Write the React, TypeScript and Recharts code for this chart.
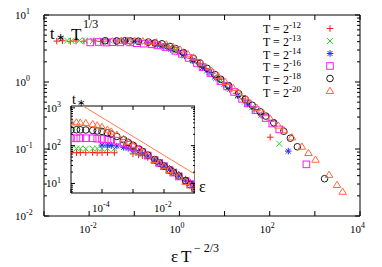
import React from 'react';
import { ScatterChart, Scatter, XAxis, YAxis, ReferenceLine } from 'recharts';

const FONT = '"Liberation Serif", "Times New Roman", serif';

// T = 2^-k for each series
const T_EXP = [12, 13, 14, 16, 18, 20];
const COLORS = ['#ff1a1a', '#22dd22', '#2a2aff', '#ff1aff', '#1a1a1a', '#ff6a3a'];
const KINDS = ['plus', 'cross', 'star', 'square', 'circle', 'triangle'];

// raw epsilon values and the scaled t* T^(1/3)
const EPS_12 = [7.5e-6, 1e-5, 1.5e-5, 2e-5, 3e-5, 5e-5, 7e-5, 1e-4, 1.5e-4, 2.5e-4, 1e-3, 1.5e-3, 2e-3, 3e-3, 5e-3, 7e-3, 1e-2, 1.5e-2, 2e-2, 3e-2, 5e-2, 7e-2, 0.1, 0.4];
const Y_12 = [4.08, 4.12, 4.05, 4.1, 4.07, 4.11, 4.04, 4.08, 4.1, 4.06, 3.8, 3.57, 3.41, 3.06, 2.58, 2.26, 1.92, 1.58, 1.36, 1.09, 0.82, 0.68, 0.56, 0.15];

const EPS_13 = [8e-6, 1e-5, 1.5e-5, 2e-5, 3e-5, 5e-5, 7e-5, 1e-4, 1.5e-4, 2.5e-4, 1e-3, 1.5e-3, 2e-3, 3e-3, 5e-3, 7e-3, 1e-2, 1.5e-2, 2e-2, 3e-2, 5e-2, 7e-2, 0.1, 0.4];
const Y_13 = [4.15, 4.12, 4.17, 4.14, 4.1, 4.15, 4.17, 4.12, 4.15, 4.1, 3.5, 3.18, 2.94, 2.55, 2.07, 1.76, 1.48, 1.19, 1.02, 0.82, 0.62, 0.51, 0.42, 0.12];

const EPS_14 = [1e-4, 1.5e-4, 2e-4, 3e-4, 5e-4, 7e-4, 1e-3, 1.5e-3, 2e-3, 3e-3, 5e-3, 7e-3, 1e-2, 1.5e-2, 2e-2, 3e-2, 5e-2, 7e-2, 0.1, 0.4];
const Y_14 = [4.08, 4.07, 3.98, 3.85, 3.55, 3.35, 3.06, 2.75, 2.45, 2.09, 1.64, 1.38, 1.14, 0.92, 0.78, 0.63, 0.47, 0.39, 0.32, 0.093];

const EPS_16 = [6.5e-6, 1e-5, 1.5e-5, 2e-5, 3e-5, 5e-5, 7e-5, 1e-4, 1.5e-4, 2e-4, 3e-4, 5e-4, 7e-4, 1e-3, 1.5e-3, 2e-3, 3e-3, 5e-3, 7e-3, 1e-2, 1.5e-2, 2e-2, 3e-2, 5e-2, 7e-2, 0.1, 0.4];
const Y_16 = [3.9, 3.95, 3.88, 3.93, 3.9, 3.9, 3.8, 3.73, 3.66, 3.52, 3.33, 2.92, 2.63, 2.28, 1.92, 1.67, 1.36, 1.03, 0.86, 0.71, 0.56, 0.48, 0.38, 0.29, 0.24, 0.196, 0.059];

const EPS_18 = [5.5e-6, 1e-5, 1.5e-5, 2e-5, 3e-5, 5e-5, 7e-5, 1e-4, 1.5e-4, 2e-4, 3e-4, 5e-4, 7e-4, 1e-3, 1.5e-3, 2e-3, 3e-3, 5e-3, 7e-3, 1e-2, 1.5e-2, 2e-2, 3e-2, 5e-2, 7e-2, 0.1, 0.4];
const Y_18 = [4.12, 4.1, 4.12, 4.1, 4.06, 3.95, 3.83, 3.72, 3.4, 3.15, 2.75, 2.24, 1.9, 1.6, 1.29, 1.1, 0.88, 0.67, 0.55, 0.45, 0.36, 0.31, 0.246, 0.184, 0.145, 0.108, 0.036];

const EPS_20 = [5e-6, 7e-6, 1e-5, 1.5e-5, 2e-5, 3e-5, 5e-5, 7e-5, 1e-4, 1.5e-4, 2e-4, 3e-4, 5e-4, 7e-4, 1e-3, 1.5e-3, 2e-3, 3e-3, 5e-3, 7e-3, 1e-2, 1.5e-2, 2e-2, 3e-2, 5e-2, 7e-2, 0.1, 0.2, 0.3, 0.4];
const Y_20 = [4.12, 4.12, 4.09, 4.05, 3.98, 3.89, 3.63, 3.35, 3.05, 2.59, 2.31, 1.9, 1.46, 1.22, 1.0, 0.81, 0.685, 0.547, 0.411, 0.341, 0.28, 0.223, 0.19, 0.149, 0.108, 0.087, 0.069, 0.041, 0.029, 0.023];

const EPS = [EPS_12, EPS_13, EPS_14, EPS_16, EPS_18, EPS_20];
const YS = [Y_12, Y_13, Y_14, Y_16, Y_18, Y_20];

// reference power law in the inset
const LINE_EPS = [2.5e-5, 0.1];
const LINE_T = [1110, 17.6];

// axes
const MAIN_X_DOMAIN = [1e-3, 1e4];
const MAIN_Y_DOMAIN = [1e-2, 10];
const MAIN_X_TICKS = [1e-3, 1e-2, 1e-1, 1, 10, 100, 1e3, 1e4];
const MAIN_X_LABELS = [1e-2, 1, 100, 1e4];
const MAIN_Y_DECADES = [1e-2, 1e-1, 1, 10];
const INSET_X_DOMAIN = [1e-5, 0.1];
const INSET_Y_DOMAIN = [5.6, 1120];
const INSET_X_TICKS = [1e-5, 1e-4, 1e-3, 1e-2, 1e-1];
const INSET_X_LABELS = [1e-4, 1e-2];
const INSET_Y_DECADES = [1, 10, 100, 1000];

const near = (a: number, b: number) => Math.abs(a - b) <= Math.abs(b) * 1e-6;
const isDecade = (v: number) => Math.abs(Math.log10(v) - Math.round(Math.log10(v))) < 1e-6;

function withMinors(decades: number[], domain: number[]) {
  const out: number[] = [];
  decades.forEach((d) => {
    for (let m = 1; m < 10; m++) {
      const v = d * m;
      if (v >= domain[0] * 0.999 && v <= domain[1] * 1.001) out.push(v);
    }
  });
  return out;
}

const mainData = T_EXP.map((k, i) => EPS[i].map((e, j) => ({ x: e * Math.pow(2, (2 * k) / 3), y: YS[i][j] })));
const insetData = T_EXP.map((k, i) => EPS[i].map((e, j) => ({ x: e, y: YS[i][j] * Math.pow(2, k / 3) })));
const lineData = LINE_EPS.map((e, i) => ({ x: e, y: LINE_T[i] }));

function Marker({ cx, cy, kind, color }: { cx: number; cy: number; kind: string; color: string }) {
  const s = 3.3;
  const p = { stroke: color, strokeWidth: 1, fill: 'none' };
  if (kind === 'plus')
    return <path d={`M${cx - s},${cy}H${cx + s}M${cx},${cy - s}V${cy + s}`} {...p} />;
  if (kind === 'cross') {
    const c = s * 0.9;
    return <path d={`M${cx - c},${cy - c}L${cx + c},${cy + c}M${cx - c},${cy + c}L${cx + c},${cy - c}`} {...p} />;
  }
  if (kind === 'star') {
    const c = s * 0.75;
    return (
      <path
        d={`M${cx - s},${cy}H${cx + s}M${cx},${cy - s}V${cy + s}M${cx - c},${cy - c}L${cx + c},${cy + c}M${cx - c},${cy + c}L${cx + c},${cy - c}`}
        {...p}
      />
    );
  }
  if (kind === 'square') return <rect x={cx - s} y={cy - s} width={2 * s} height={2 * s} {...p} />;
  if (kind === 'circle') return <circle cx={cx} cy={cy} r={s} {...p} />;
  const t = s * 1.15;
  return <path d={`M${cx},${cy - t}L${cx + t},${cy + s * 0.75}L${cx - t},${cy + s * 0.75}Z`} {...p} />;
}

function Pow({ x, y, v, size }: { x: number; y: number; v: number; size: number }) {
  const e = Math.round(Math.log10(v));
  return (
    <text x={x} y={y} fontFamily={FONT} fontSize={size} fill="#000">
      10
      <tspan dy={-size * 0.42} fontSize={size * 0.72}>
        {String(e)}
      </tspan>
    </text>
  );
}

function xTick(span: number, labels: number[], dy: number, major: number, minor: number) {
  return (p: any) => {
    const v = p.payload.value;
    const len = isDecade(v) ? major : minor;
    return (
      <g>
        <line x1={p.x} y1={p.y} x2={p.x} y2={p.y - len} stroke="#000" />
        <line x1={p.x} y1={p.y - span} x2={p.x} y2={p.y - span + len} stroke="#000" />
        {labels.some((l) => near(v, l)) && <Pow x={p.x - 10} y={p.y + dy} v={v} size={11} />}
      </g>
    );
  };
}

function yTick(span: number, dx: number, major: number, minor: number) {
  return (p: any) => {
    const v = p.payload.value;
    const dec = isDecade(v);
    const len = dec ? major : minor;
    return (
      <g>
        <line x1={p.x} y1={p.y} x2={p.x + len} y2={p.y} stroke="#000" />
        <line x1={p.x + span} y1={p.y} x2={p.x + span - len} y2={p.y} stroke="#000" />
        {dec && <Pow x={p.x - dx} y={p.y + 4} v={v} size={11} />}
      </g>
    );
  };
}

export default function App() {
  const mainYTicks = withMinors(MAIN_Y_DECADES, MAIN_Y_DOMAIN);
  const insetYTicks = withMinors(INSET_Y_DECADES, INSET_Y_DOMAIN);

  return (
    <div style={{ position: 'absolute', left: 0, top: 0, width: 382, height: 267, background: '#fff' }}>
      <div style={{ position: 'absolute', left: 0, top: 0 }}>
        <ScatterChart width={382} height={267} margin={{ top: 15, right: 22, bottom: 0, left: 0 }}>
          <XAxis
            dataKey="x"
            type="number"
            scale="log"
            domain={MAIN_X_DOMAIN}
            allowDataOverflow
            ticks={MAIN_X_TICKS}
            interval={0}
            height={51}
            tickSize={0}
            tickMargin={0}
            tickLine={false}
            axisLine={{ stroke: '#000' }}
            tick={xTick(201, MAIN_X_LABELS, 17, 5, 3)}
          />
          <YAxis
            dataKey="y"
            type="number"
            scale="log"
            domain={MAIN_Y_DOMAIN}
            allowDataOverflow
            ticks={mainYTicks}
            interval={0}
            width={44}
            tickSize={0}
            tickMargin={0}
            tickLine={false}
            axisLine={{ stroke: '#000' }}
            tick={yTick(316, 29, 5, 3)}
          />
          <ReferenceLine y={MAIN_Y_DOMAIN[1]} stroke="#000" />
          <ReferenceLine x={MAIN_X_DOMAIN[1]} stroke="#000" />
          {mainData.map((d, i) => (
            <Scatter
              key={T_EXP[i]}
              data={d}
              isAnimationActive={false}
              shape={(p: any) => <Marker cx={p.cx} cy={p.cy} kind={KINDS[i]} color={COLORS[i]} />}
            />
          ))}
        </ScatterChart>
      </div>

      <div style={{ position: 'absolute', left: 41, top: 94 }}>
        <ScatterChart width={154} height={124} margin={{ top: 12, right: 0, bottom: 0, left: 0 }}>
          <XAxis
            dataKey="x"
            type="number"
            scale="log"
            domain={INSET_X_DOMAIN}
            allowDataOverflow
            ticks={INSET_X_TICKS}
            interval={0}
            height={25}
            tickSize={0}
            tickMargin={0}
            tickLine={false}
            axisLine={{ stroke: '#000' }}
            tick={xTick(87, INSET_X_LABELS, 19, 4, 2)}
          />
          <YAxis
            dataKey="y"
            type="number"
            scale="log"
            domain={INSET_Y_DOMAIN}
            allowDataOverflow
            ticks={insetYTicks}
            interval={0}
            width={30}
            tickSize={0}
            tickMargin={0}
            tickLine={false}
            axisLine={{ stroke: '#000' }}
            tick={yTick(124, 25, 4, 2)}
          />
          <ReferenceLine y={INSET_Y_DOMAIN[1]} stroke="#000" />
          <ReferenceLine x={INSET_X_DOMAIN[1]} stroke="#000" />
          {insetData.map((d, i) => (
            <Scatter
              key={T_EXP[i]}
              data={d}
              isAnimationActive={false}
              shape={(p: any) => <Marker cx={p.cx} cy={p.cy} kind={KINDS[i]} color={COLORS[i]} />}
            />
          ))}
          <Scatter
            data={lineData}
            isAnimationActive={false}
            line={{ stroke: '#ff7a4a', strokeWidth: 1 }}
            shape={() => <g />}
          />
        </ScatterChart>
      </div>

      <svg width={382} height={267} style={{ position: 'absolute', left: 0, top: 0, pointerEvents: 'none' }}>
        <g fontFamily={FONT} fill="#000">
          <text x={50} y={39} fontSize={16}>t</text>
          <text x={55.5} y={41} fontSize={11}>∗</text>
          <text x={71} y={40} fontSize={17}>T</text>
          <text x={83} y={28} fontSize={12}>1/3</text>

          <text x={171} y={262} fontSize={17}>ε</text>
          <text x={181} y={262} fontSize={17}>T</text>
          <text x={194} y={252} fontSize={12}>− 2/3</text>

          <text x={72} y={104} fontSize={14}>t</text>
          <text x={76.5} y={106} fontSize={10}>∗</text>
          <text x={199} y={192} fontSize={16}>ε</text>

          {T_EXP.map((k, i) => (
            <text key={k} x={263} y={33.3 + 12.7 * i} fontSize={12}>
              T = 2
              <tspan dy={-5} fontSize={9}>
                {`-${k}`}
              </tspan>
            </text>
          ))}
        </g>
        {T_EXP.map((k, i) => (
          <Marker key={k} cx={330} cy={28.5 + 12.5 * i} kind={KINDS[i]} color={COLORS[i]} />
        ))}
      </svg>
    </div>
  );
}
